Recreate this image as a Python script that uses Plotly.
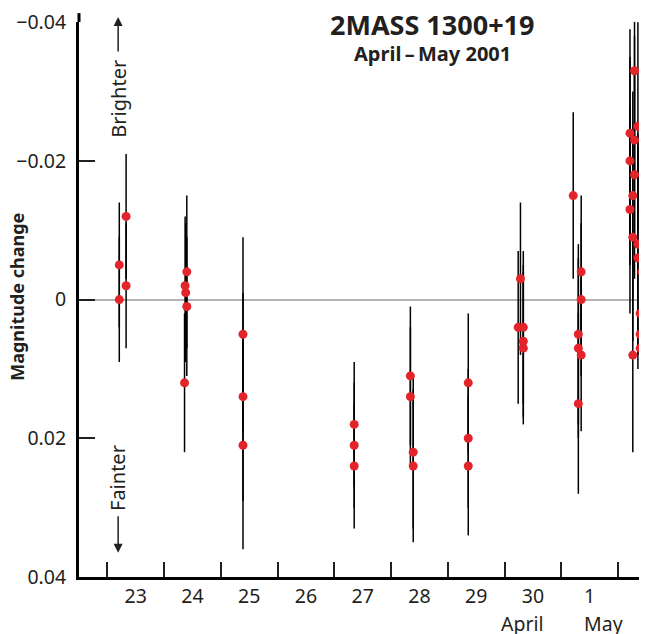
import plotly.graph_objects as go

# Observation times (day of April/May 2001, fractional) and magnitude changes
day_pos = [23.21, 23.21, 23.33, 23.33,
           24.40, 24.37, 24.38, 24.40, 24.36,
           25.39, 25.39, 25.39,
           27.35, 27.35, 27.35,
           28.34, 28.34, 28.39, 28.39,
           29.36, 29.36, 29.36,
           30.28, 30.24, 30.33, 30.33, 30.33,
           31.21, 31.35, 31.35, 31.30, 31.30, 31.35, 31.30,
           32.29, 32.35, 32.21, 32.29, 32.21, 32.29, 32.26, 32.21,
           32.26, 32.35, 32.35, 32.42, 32.39, 32.39, 32.39, 32.26]
mag = [-0.005, 0.000, -0.012, -0.002,
       -0.004, -0.002, -0.001, 0.001, 0.012,
       0.005, 0.014, 0.021,
       0.018, 0.021, 0.024,
       0.011, 0.014, 0.022, 0.024,
       0.012, 0.020, 0.024,
       -0.003, 0.004, 0.004, 0.006, 0.007,
       -0.015, -0.004, 0.000, 0.005, 0.007, 0.008, 0.015,
       -0.033, -0.025, -0.024, -0.023, -0.020, -0.018, -0.015, -0.013,
       -0.009, -0.008, -0.006, -0.004, 0.002, 0.005, 0.007, 0.008]
mag_err = [0.009, 0.009, 0.009, 0.009,
           0.011, 0.010, 0.010, 0.010, 0.010,
           0.014, 0.015, 0.015,
           0.009, 0.009, 0.009,
           0.010, 0.010, 0.011, 0.011,
           0.010, 0.010, 0.010,
           0.011, 0.011, 0.011, 0.011, 0.011,
           0.012, 0.011, 0.011, 0.013, 0.013, 0.011, 0.013,
           0.015, 0.015, 0.015, 0.015, 0.015, 0.015, 0.015, 0.015,
           0.015, 0.016, 0.016, 0.014, 0.017, 0.017, 0.017, 0.014]

day_ticks = [23.5, 24.5, 25.5, 26.5, 27.5, 28.5, 29.5, 30.5, 31.5, 32.5]
day_labels = ["23", "24", "25", "26", "27", "28", "29", "30", "1", "2"]
mag_ticks = [-0.04, -0.02, 0, 0.02, 0.04]
mag_labels = ["\u22120.04", "\u22120.02", "0", "0.02", "0.04"]

FONT = "Noto Sans"
INK = "#231f20"

fig = go.Figure()
fig.add_trace(go.Scatter(
    x=day_pos, y=mag, mode="markers",
    marker=dict(color="#e3252b", size=9),
    error_y=dict(type="data", array=mag_err, color="black", thickness=1.5, width=0),
    showlegend=False, hoverinfo="skip",
))

# page body adds an 8px offset, so the figure is 8px smaller than the window
fig.update_layout(
    width=639, height=626,
    margin=dict(l=71, r=0, t=14, b=57),
    plot_bgcolor="white", paper_bgcolor="white",
    font=dict(family=FONT, color=INK, size=19.5),
    xaxis=dict(
        range=[22.5, 32.51], showgrid=False, zeroline=False, automargin=False,
        showline=True, linecolor="black", linewidth=3,
        tickmode="array", tickvals=day_ticks, ticktext=day_labels,
        ticks="", ticklabelstandoff=0, ticklabeloverflow="allow",
        minor=dict(tick0=23, dtick=1, ticks="inside", ticklen=15,
                   tickwidth=1.5, tickcolor=INK),
    ),
    yaxis=dict(
        range=[0.04, -0.04003], showgrid=False, automargin=False,
        zeroline=True, zerolinecolor="#b4b4b4", zerolinewidth=2,
        showline=True, linecolor="black", linewidth=3,
        tickmode="array", tickvals=mag_ticks, ticktext=mag_labels,
        ticks="inside", ticklen=16, tickwidth=2, tickcolor=INK,
        ticklabelstandoff=6, ticklabeloverflow="allow",
    ),
)

# axis line runs a little above the top tick
fig.add_shape(type="line", xref="paper", yref="paper", x0=0, x1=0,
              y0=1, y1=1.016, line=dict(color="black", width=3))

mid = dict(xanchor="center", yanchor="middle", showarrow=False)

# titles
fig.add_annotation(text="<b>2MASS 1300+19</b>", xref="paper", yref="paper",
                   x=0.621, y=0.9946, font=dict(size=27), **mid)
fig.add_annotation(text="<b>April\u2009\u2013\u2009May 2001</b>", xref="paper", yref="paper",
                   x=0.622, y=0.944, font=dict(size=20), **mid)
fig.add_annotation(text="<b>Magnitude change</b>", xref="paper", yref="paper",
                   x=-0.109, y=0.505, textangle=-90, font=dict(size=18), **mid)

# month labels under the day numbers
fig.add_annotation(text="April", x=30.31, xref="x", y=-0.083, yref="paper", **mid)
fig.add_annotation(text="May", x=31.74, xref="x", y=-0.083, yref="paper", **mid)

# Brighter / Fainter with arrows
fig.add_annotation(text="Brighter", x=23.19, xref="x", y=-0.029, yref="y",
                   textangle=-90, font=dict(size=20), **mid)
fig.add_annotation(x=23.19, y=1.009, xref="x", yref="paper", ax=0, ay=36,
                   text="", showarrow=True, arrowhead=2, arrowsize=1.2,
                   arrowwidth=1.5, arrowcolor=INK)
fig.add_annotation(text="Fainter", x=23.19, xref="x", y=0.0257, yref="y",
                   textangle=-90, font=dict(size=20), **mid)
fig.add_annotation(x=23.19, y=0.0365, xref="x", yref="y", ax=0, ay=-38,
                   text="", showarrow=True, arrowhead=2, arrowsize=1.2,
                   arrowwidth=1.5, arrowcolor=INK)

fig.write_html("out.html")
